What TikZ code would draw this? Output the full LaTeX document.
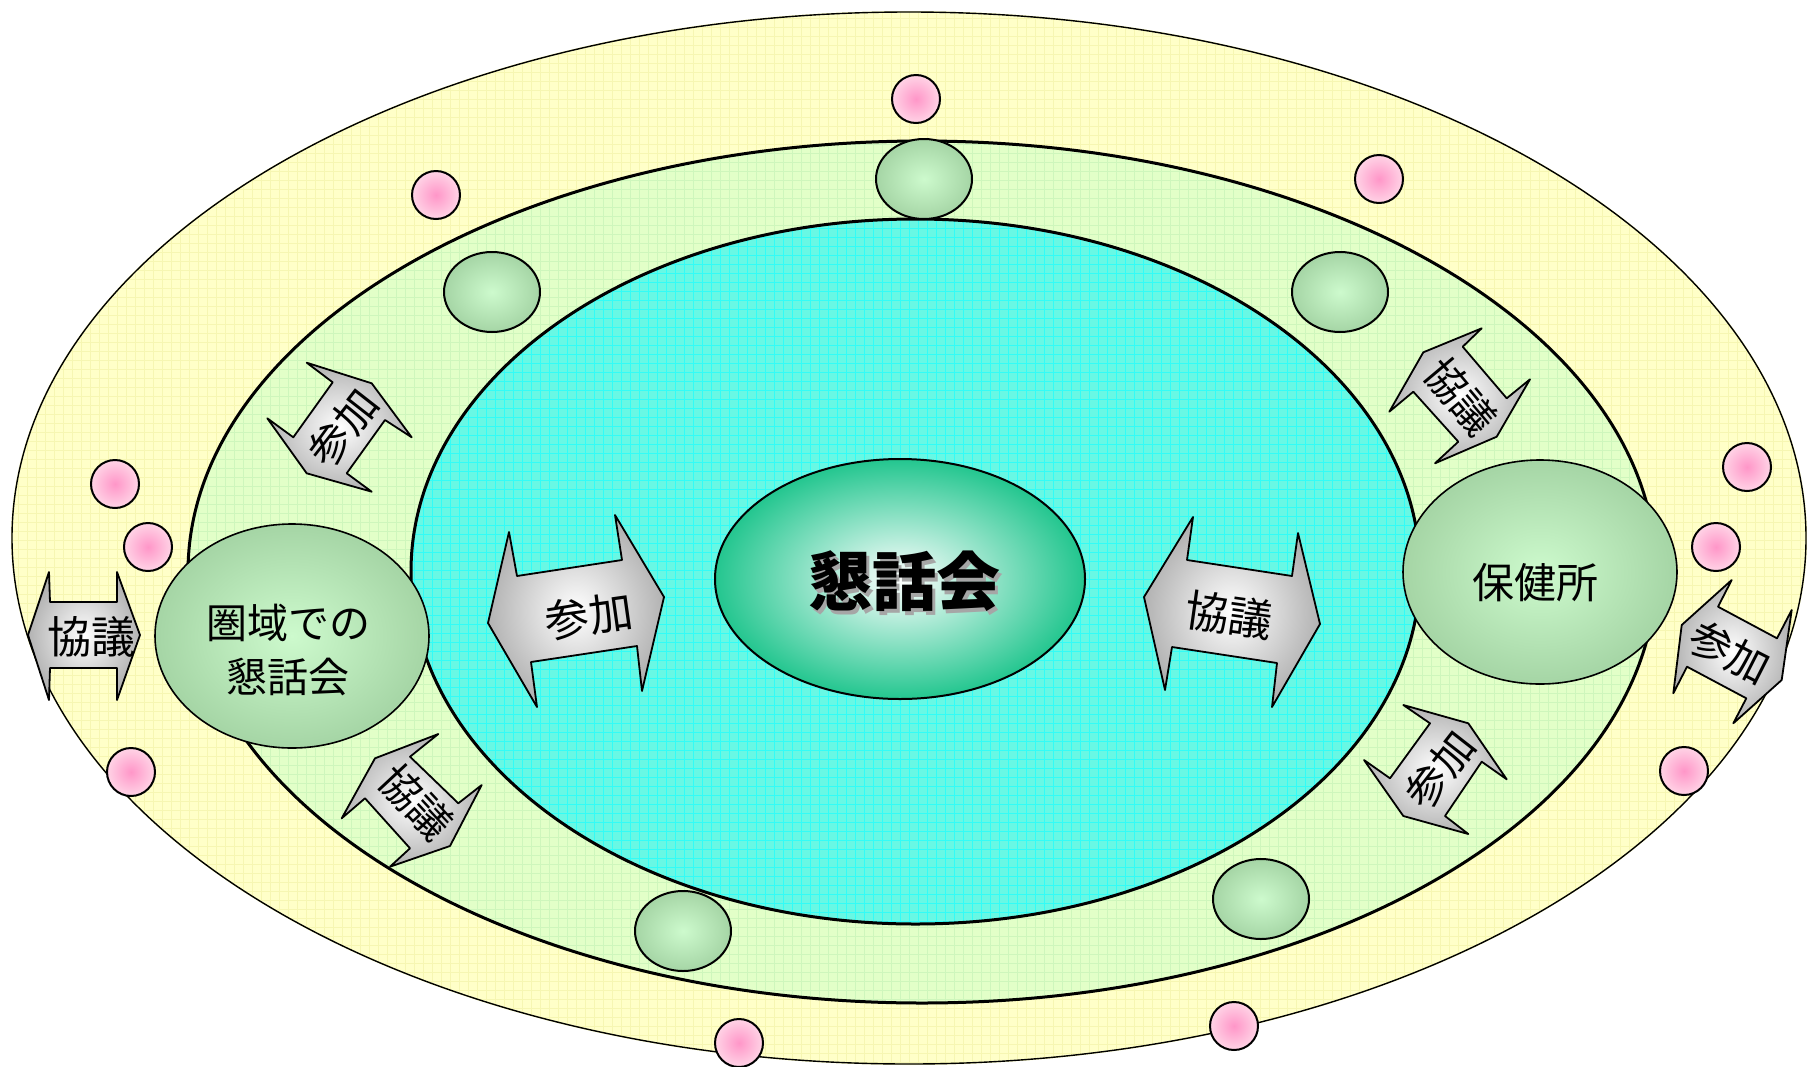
\documentclass[tikz,border=0pt]{standalone}
\usepackage{fontspec}
\newfontfamily\cjk{Noto Sans CJK JP}
\usetikzlibrary{shapes.geometric}
\definecolor{ringY}{RGB}{255,255,200}
\definecolor{gridY}{RGB}{246,246,178}
\definecolor{ringG}{RGB}{226,255,200}
\definecolor{gridG}{RGB}{206,246,188}
\definecolor{ringC}{RGB}{104,248,228}
\definecolor{gridC}{RGB}{50,252,246}
\definecolor{hubOut}{RGB}{35,198,143}
\definecolor{grnOut}{RGB}{165,213,165}
\definecolor{grnIn}{RGB}{205,250,205}
\definecolor{pinkIn}{RGB}{255,150,200}
\definecolor{pinkOut}{RGB}{255,212,230}
\begin{document}
\begin{tikzpicture}[x=1pt,y=-1pt,
  ring/.style={ellipse, inner sep=0pt, outer sep=0pt},
  gridline/.style={line width=0.9pt},
  greennode/.style={ellipse, inner sep=0pt, draw=black, line width=1.6pt, inner color=grnIn, outer color=grnOut},
  pinkdot/.style={circle, inner sep=0pt, minimum size=48pt, draw=black, line width=2pt, inner color=pinkIn, outer color=pinkOut},
  smallgreen/.style={greennode, minimum width=96pt, minimum height=80pt, line width=2pt},
  dblarrow/.style={draw=black, line width=1.8pt, line join=round, inner color=white, outer color=black!30},
  lbl/.style={font=\cjk\fontsize{44}{50}\selectfont, inner sep=0pt},
  smalllbl/.style={font=\cjk\fontsize{42}{48}\selectfont, inner sep=0pt}
]
\useasboundingbox (0,0) rectangle (1807,1066);
\fill[white] (0,0) rectangle (1807,1066);

% outer ring
\node[ring, fill=ringY, minimum width=1796pt, minimum height=1054pt] (outer) at (909,538) {};
\begin{scope}
  \clip (909,538) ellipse [x radius=897pt, y radius=526pt];
  \draw[gridline, gridY] \foreach \x in {0,9,...,1807} {(\x,0) -- (\x,1066)};
  \draw[gridline, gridY] \foreach \y in {0,9,...,1066} {(0,\y) -- (1807,\y)};
\end{scope}
\draw[line width=1.4pt] (909,538) ellipse [x radius=897pt, y radius=526pt];

% pink dots on the outer ring
\foreach \n/\px/\py in {p1/916/99, p2/436/195, p3/1379/179, p4/115/484, p5/148/547, p6/131/772, p7/1747/467, p8/1716/547, p9/1684/771, p10/739/1043, p11/1234/1026}
  \node[pinkdot] (\n) at (\px,\py) {};

% middle ring
\node[ring, fill=ringG, minimum width=1468pt, minimum height=862pt] (middle) at (922,572) {};
\begin{scope}
  \clip (922,572) ellipse [x radius=734pt, y radius=431pt];
  \draw[gridline, gridG] \foreach \x in {180,189,...,1660} {(\x,130) -- (\x,1010)};
  \draw[gridline, gridG] \foreach \y in {135,144,...,1010} {(180,\y) -- (1660,\y)};
\end{scope}
\draw[line width=3pt] (922,572) ellipse [x radius=734pt, y radius=431pt];

% inner ring
\node[ring, fill=ringC, minimum width=1009pt, minimum height=705pt] (inner) at (915.5,571.5) {};
\begin{scope}
  \clip (915.5,571.5) ellipse [x radius=504.5pt, y radius=352.5pt];
  \draw[gridline, gridC] \foreach \x in {405,414,...,1430} {(\x,210) -- (\x,930)};
  \draw[gridline, gridC] \foreach \y in {210,219,...,930} {(405,\y) -- (1430,\y)};
\end{scope}
\draw[line width=3pt] (915.5,571.5) ellipse [x radius=504.5pt, y radius=352.5pt];

% small green ellipses on the middle ring
\foreach \n/\px/\py in {g1/924/179, g2/492/292, g3/1340/292, g4/683/931, g5/1261/899}
  \node[smallgreen] (\n) at (\px,\py) {};

% hub
\node[ellipse, inner sep=0pt, minimum width=370pt, minimum height=240pt, draw=black, line width=2pt,
      inner color=white, outer color=hubOut] (hub) at (900,579) {};
\node[font=\cjk\bfseries\fontsize{64}{70}\selectfont, text=black!35, inner sep=0pt] (hubshadow) at (907,585) {懇話会};
\node[font=\cjk\bfseries\fontsize{64}{70}\selectfont, inner sep=0pt] (hubtext) at (904,581) {懇話会};

% left and right nodes
\node[greennode, minimum width=274pt, minimum height=224pt] (ken) at (292,636) {};
\node[font=\cjk\fontsize{41}{54}\selectfont, align=center, inner sep=0pt] (kentext) at (288,650) {圏域での\\懇話会};
\node[greennode, minimum width=274pt, minimum height=224pt] (hok) at (1540,572) {};
\node[font=\cjk\fontsize{42}{50}\selectfont, inner sep=0pt] (hoktext) at (1535,583) {保健所};

% big arrow 参加 (left of hub)
\path[dblarrow] (488,623) -- (509,532) -- (517,576) -- (622,560) -- (615,515) -- (664,597)
  -- (642,691) -- (637,646) -- (531,662) -- (537,707) -- cycle;
\node[lbl, rotate=8] (a1) at (589,616) {参加};

% big arrow 協議 (right of hub)
\path[dblarrow] (1144,597) -- (1193,517) -- (1187,560) -- (1292,576) -- (1298,533) -- (1320,624)
  -- (1272,707) -- (1277,663) -- (1172,647) -- (1165,690) -- cycle;
\node[lbl, rotate=-8] (a2) at (1229,615) {協議};

% left outer arrow 協議
\path[dblarrow] (28,635) -- (49,572) -- (50,602) -- (117,602) -- (117,572) -- (140,635)
  -- (117,700) -- (117,668) -- (50,668) -- (49,700) -- cycle;
\node[lbl] (a3) at (91,637) {協議};

% upper-left 参加
\path[dblarrow] (371.7,383.3) -- (411.7,437.3) -- (385,420) -- (346.7,473.3) -- (371.7,491.7)
  -- (306.7,473.3) -- (267.3,418.3) -- (293.3,437.3) -- (332.7,382.3) -- (306.7,362.7) -- cycle;
\node[smalllbl, rotate=52] (a4) at (343,428) {参加};

% lower-left 協議
\path[dblarrow] (375,758.3) -- (438.3,734) -- (410,756.7) -- (458.3,803.3) -- (481.7,785)
  -- (450,846) -- (390,866.7) -- (410,848.3) -- (365,798.3) -- (341.7,818.3) -- cycle;
\node[smalllbl, rotate=-47] (a5) at (416,802) {協議};

% upper-right 協議
\path[dblarrow] (1423.3,352.3) -- (1481.7,328.3) -- (1462.7,346.7) -- (1506.7,398.3) -- (1530,379.3)
  -- (1496.7,436.7) -- (1435,463.3) -- (1458.3,441.7) -- (1413.3,391.7) -- (1389.3,411.7) -- cycle;
\node[smalllbl, rotate=-50] (a6) at (1461,396) {協議};

% lower-right 参加
\path[dblarrow] (1468.3,723.3) -- (1506.7,779.3) -- (1481.7,761.7) -- (1445,816) -- (1468.3,834)
  -- (1403.3,816) -- (1364,760) -- (1390,778.3) -- (1430,723.3) -- (1403.3,705) -- cycle;
\node[smalllbl, rotate=52] (a7) at (1440,770) {参加};

% right outer 参加
\path[dblarrow] (1681.7,625) -- (1731.7,580) -- (1718,606.7) -- (1777,638.3) -- (1791.7,610)
  -- (1781.7,680) -- (1733.3,723.3) -- (1746.3,698.3) -- (1687,666.7) -- (1673.3,693.3) -- cycle;
\node[smalllbl, rotate=-27] (a8) at (1730,652) {参加};
\end{tikzpicture}
\end{document}
